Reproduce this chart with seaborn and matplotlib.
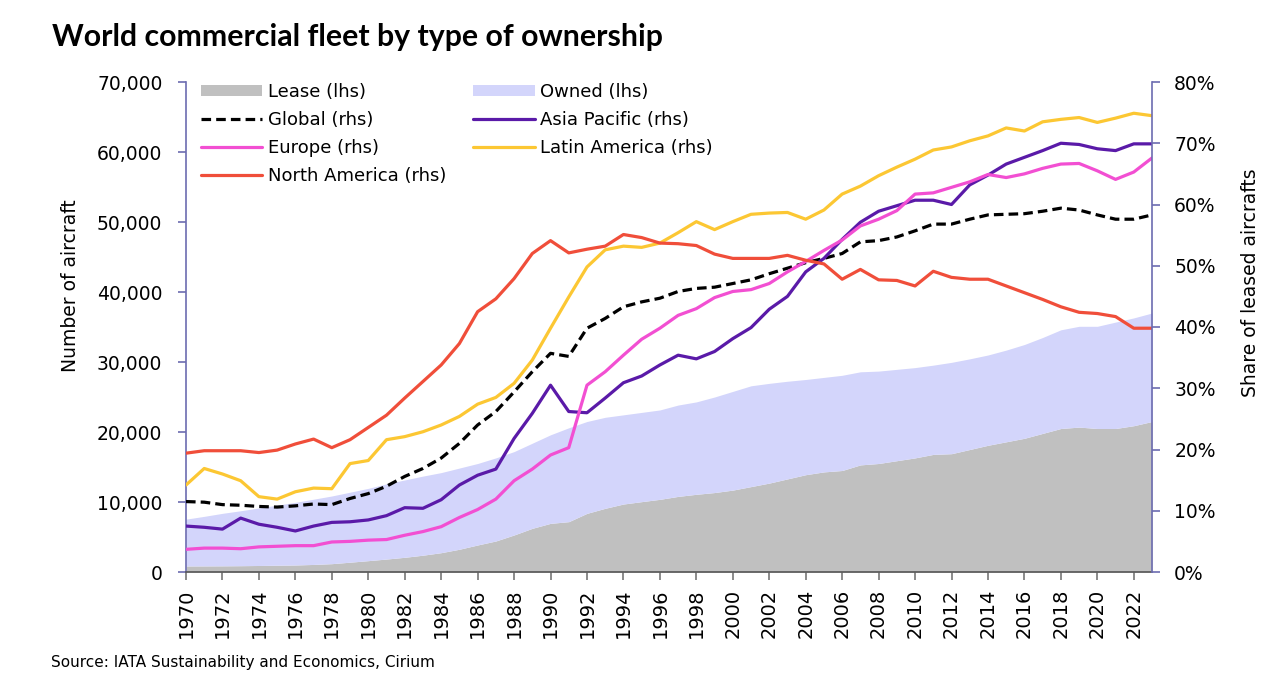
import numpy as np
import pandas as pd
import matplotlib
matplotlib.use("Agg")
import matplotlib.pyplot as plt
import seaborn as sns
from matplotlib.patches import Patch
from matplotlib.lines import Line2D
from matplotlib.ticker import FuncFormatter

# ---------------- data ----------------
years = list(range(1970, 2024))

lease = [860, 870, 880, 900, 930, 970, 1000, 1080, 1190, 1400,
         1620, 1850, 2100, 2400, 2760, 3250, 3860, 4430, 5290, 6240,
         6950, 7190, 8380, 9100, 9710, 10050, 10380, 10800, 11100, 11350,
         11700, 12200, 12700, 13300, 13900, 14300, 14500, 15300, 15500, 15900,
         16300, 16800, 16900, 17500, 18100, 18600, 19100, 19800, 20500, 20700,
         20500, 20500, 20900, 21500]

owned = [6690, 7080, 7500, 7850, 8220, 8580, 8950, 9320, 9670, 10000,
         10330, 10750, 11050, 11300, 11440, 11600, 11640, 11870, 11910, 12160,
         12650, 13410, 13120, 13000, 12740, 12750, 12770, 13050, 13200, 13650,
         14100, 14400, 14250, 13950, 13600, 13500, 13600, 13300, 13200, 13050,
         12900, 12750, 13050, 12950, 12900, 13100, 13400, 13700, 14100, 14400,
         14600, 15200, 15400, 15500]

global_share = [11.5, 11.4, 11.0, 10.9, 10.7, 10.6, 10.8, 11.1, 11.0, 12.0,
                12.8, 14.0, 15.6, 16.9, 18.6, 21.0, 24.0, 26.2, 29.4, 32.7,
                35.7, 35.2, 39.8, 41.4, 43.3, 44.1, 44.7, 45.8, 46.3, 46.5,
                47.1, 47.7, 48.7, 49.6, 50.5, 51.2, 52.0, 53.9, 54.1, 54.7,
                55.7, 56.8, 56.8, 57.6, 58.3, 58.4, 58.5, 58.9, 59.4, 59.1,
                58.3, 57.6, 57.6, 58.3]

asia_pacific = [7.5, 7.3, 7.0, 8.8, 7.8, 7.3, 6.7, 7.5, 8.1, 8.2,
                8.5, 9.2, 10.5, 10.4, 11.8, 14.2, 15.8, 16.8, 21.8, 25.9,
                30.5, 26.2, 26.0, 28.4, 30.9, 32.0, 33.8, 35.4, 34.8, 36.0,
                38.1, 39.9, 42.9, 45.0, 49.0, 51.2, 54.3, 57.1, 58.9, 59.8,
                60.7, 60.7, 60.0, 63.2, 64.8, 66.6, 67.7, 68.8, 70.0, 69.8,
                69.1, 68.8, 69.9, 69.9]

europe = [3.7, 3.9, 3.9, 3.8, 4.1, 4.2, 4.3, 4.3, 4.9, 5.0,
          5.2, 5.3, 6.0, 6.6, 7.4, 8.9, 10.2, 11.9, 14.9, 16.8,
          19.1, 20.3, 30.5, 32.7, 35.4, 38.0, 39.8, 41.9, 43.0, 44.8,
          45.8, 46.1, 47.1, 49.0, 50.7, 52.5, 54.2, 56.5, 57.6, 59.0,
          61.7, 61.9, 62.8, 63.7, 64.9, 64.4, 65.0, 65.9, 66.6, 66.7,
          65.5, 64.1, 65.3, 67.6]

latin_america = [14.2, 16.9, 16.0, 14.9, 12.3, 11.9, 13.1, 13.7, 13.6, 17.7,
                 18.2, 21.6, 22.1, 22.9, 24.0, 25.4, 27.4, 28.5, 30.8, 34.6,
                 39.8, 44.9, 49.8, 52.6, 53.2, 53.0, 53.7, 55.4, 57.2, 55.9,
                 57.2, 58.4, 58.6, 58.7, 57.6, 59.1, 61.7, 63.0, 64.7, 66.1,
                 67.4, 68.9, 69.4, 70.4, 71.2, 72.5, 72.0, 73.5, 73.9, 74.2,
                 73.4, 74.1, 74.9, 74.5]

north_america = [19.4, 19.8, 19.8, 19.8, 19.5, 19.9, 20.9, 21.7, 20.3, 21.6,
                 23.6, 25.6, 28.4, 31.1, 33.8, 37.3, 42.5, 44.6, 47.9, 52.0,
                 54.1, 52.1, 52.7, 53.2, 55.1, 54.6, 53.7, 53.6, 53.3, 51.9,
                 51.2, 51.2, 51.2, 51.7, 50.9, 50.3, 47.8, 49.4, 47.7, 47.6,
                 46.7, 49.1, 48.1, 47.8, 47.8, 46.7, 45.6, 44.5, 43.3, 42.4,
                 42.2, 41.7, 39.8, 39.8]

year_ticks = list(range(1970, 2023, 2))

# ---------------- style ----------------
sns.set_theme(style="white")
plt.rcParams["font.family"] = ["DejaVu Sans"]
plt.rcParams["text.color"] = "black"
plt.rcParams["axes.labelcolor"] = "black"

C_LEASE = "#c0c0c0"
C_OWNED = "#d3d5fb"
C_GLOBAL = "black"
C_ASIA = "#5a1aa8"
C_EUROPE = "#f24fd2"
C_LATAM = "#fcc733"
C_NA = "#f04e3a"
SPINE = "#6c6cb0"

W, H = 1272, 676
fig = plt.figure(figsize=(W / 100, H / 100), dpi=100)
ax = fig.add_axes([186 / W, 1 - 572 / H, (1152 - 186) / W, (572 - 82) / H])

# areas (lhs)
lease_arr = np.array(lease)
total_arr = lease_arr + np.array(owned)
ax.fill_between(years, 0, lease_arr, color=C_LEASE, lw=0, zorder=1)
ax.fill_between(years, lease_arr, total_arr, color=C_OWNED, lw=0, zorder=1)
ax.set_xlim(1970, 2023)
ax.set_ylim(0, 70000)

# lines (rhs)
ax2 = ax.twinx()
lw = 2.3
series = [
    ("Global (rhs)", global_share, C_GLOBAL, (0, (3, 1.6))),
    ("Asia Pacific (rhs)", asia_pacific, C_ASIA, "-"),
    ("Europe (rhs)", europe, C_EUROPE, "-"),
    ("Latin America (rhs)", latin_america, C_LATAM, "-"),
    ("North America (rhs)", north_america, C_NA, "-"),
]
for name, vals, col, ls in series:
    sns.lineplot(x=years, y=vals, ax=ax2, color=col, linewidth=lw,
                 linestyle=ls, legend=False)
ax2.set_ylim(0, 80)
ax2.set_xlim(1970, 2023)

# axes formatting
for a in (ax, ax2):
    a.set_xlabel("")
    a.set_ylabel("")
    a.spines["top"].set_visible(False)
    a.grid(False)
ax.spines["right"].set_visible(False)
ax2.spines["left"].set_visible(False)
ax2.spines["bottom"].set_visible(False)
ax.spines["left"].set_color(SPINE)
ax.spines["left"].set_linewidth(1.2)
ax2.spines["right"].set_color(SPINE)
ax2.spines["right"].set_linewidth(1.2)
ax.spines["bottom"].set_color("#555555")
ax.spines["bottom"].set_linewidth(1.2)

ax.set_yticks(range(0, 70001, 10000))
ax.yaxis.set_major_formatter(FuncFormatter(lambda v, p: f"{v:,.0f}"))
ax.tick_params(axis="y", direction="out", length=6, width=1.2, color=SPINE,
               labelsize=13.5, pad=11, labelcolor="black", left=True)
ax2.set_yticks(range(0, 81, 10))
ax2.yaxis.set_major_formatter(FuncFormatter(lambda v, p: f"{v:.0f}%"))
ax2.tick_params(axis="y", direction="out", length=6, width=1.2, color=SPINE,
                labelsize=13.5, pad=10, labelcolor="black", right=True)

ax.set_xticks(year_ticks)
ax.set_xticklabels([str(y) for y in year_ticks], rotation=90)
ax.tick_params(axis="x", direction="out", length=6, width=1.2, color="#777777",
               labelsize=14, pad=6, labelcolor="black", bottom=True)

# text
fig.text(52 / W, 1 - 46 / H, "World commercial fleet by type of ownership",
         fontsize=21.8, fontweight="bold", family=["Lato", "DejaVu Sans"],
         ha="left", va="baseline")
fig.text(70 / W, 1 - 286 / H, "Number of aircraft", rotation=90,
         fontsize=13.5, ha="center", va="center")
fig.text(1250 / W, 1 - 283 / H, "Share of leased aircrafts", rotation=90,
         fontsize=13.5, ha="center", va="center")
fig.text(51 / W, 1 - 667 / H, "Source: IATA Sustainability and Economics, Cirium",
         fontsize=11, ha="left", va="baseline")

# legend
handles = [
    Patch(facecolor=C_LEASE, edgecolor="none", label="Lease (lhs)"),
    Line2D([], [], color=C_GLOBAL, lw=lw, linestyle=(0, (3, 1.6)), label="Global (rhs)"),
    Line2D([], [], color=C_EUROPE, lw=lw, label="Europe (rhs)"),
    Line2D([], [], color=C_NA, lw=lw, label="North America (rhs)"),
    Patch(facecolor=C_OWNED, edgecolor="none", label="Owned (lhs)"),
    Line2D([], [], color=C_ASIA, lw=lw, label="Asia Pacific (rhs)"),
    Line2D([], [], color=C_LATAM, lw=lw, label="Latin America (rhs)"),
]
leg = ax2.legend(handles=handles, ncol=2, loc="upper left",
                 bbox_to_anchor=(15 / 966, 1.0 - 1 / 490), frameon=False,
                 fontsize=13, handlelength=3.4, handleheight=0.6,
                 handletextpad=0.3, labelspacing=0.56, columnspacing=1.5,
                 borderpad=0, borderaxespad=0)

fig.savefig("out.png", dpi=100)
